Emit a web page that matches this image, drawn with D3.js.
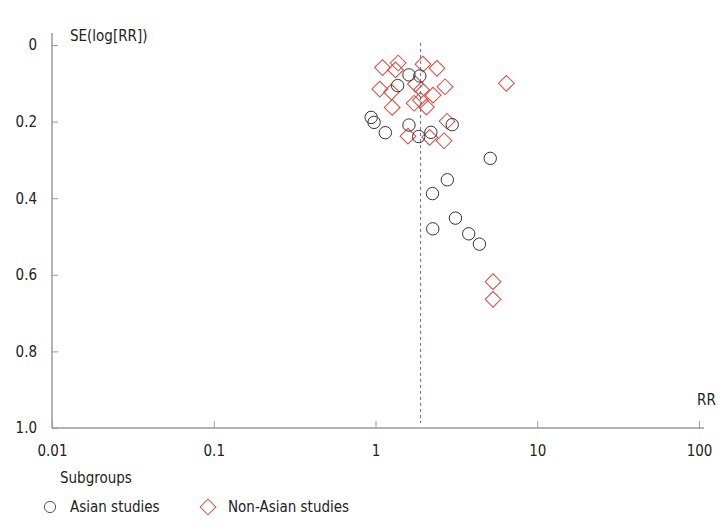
<!DOCTYPE html>
<html>
<head>
<meta charset="utf-8">
<script src="https://cdn.jsdelivr.net/npm/d3@7/dist/d3.min.js"></script>
<style>
  html, body { margin: 0; padding: 0; background: #fff; }
  svg { display: block; }
</style>
</head>
<body>
<div id="chart"></div>
<script>
// funnel plot data
var asianRR = [1.61, 1.88, 1.37, 0.94, 0.98, 1.15, 1.61, 1.85, 2.20, 2.98, 5.12, 2.78, 2.25, 3.12, 2.26, 3.77, 4.39];
var asianSE = [0.078, 0.081, 0.106, 0.189, 0.202, 0.229, 0.209, 0.239, 0.228, 0.208, 0.296, 0.352, 0.388, 0.452, 0.480, 0.493, 0.520];
var nonAsianRR = [1.105, 1.38, 1.33, 1.965, 2.40, 1.063, 1.255, 1.268, 1.765, 1.923, 2.27, 2.69, 1.733, 1.896, 2.064, 2.77, 1.587, 2.163, 2.655, 6.44, 5.33, 5.33];
var nonAsianSE = [0.059, 0.047, 0.065, 0.050, 0.061, 0.115, 0.123, 0.163, 0.102, 0.117, 0.131, 0.109, 0.152, 0.144, 0.162, 0.199, 0.238, 0.241, 0.250, 0.100, 0.618, 0.664];
var pooledRR = 1.9;
var xTicks = [0.01, 0.1, 1, 10, 100];
var yTicks = [0, 0.2, 0.4, 0.6, 0.8, 1.0];
var legendLabels = ['Asian studies', 'Non-Asian studies'];

var _width = 724, _height = 531;
var _font = '"DejaVu Sans Condensed", "DejaVu Sans", Verdana, sans-serif';
var _fontSize = 15;
var _axisColor = '#9a9a9a';
var _textColor = '#222';
var _red = '#e0473c';

var svg = d3.select('#chart').append('svg')
    .attr('width', _width)
    .attr('height', _height);

var x = d3.scaleLog().domain([0.01, 100]).range([52, 699]);
var y = d3.scaleLinear().domain([0, 1]).range([45, 428]);

// y axis
var gy = svg.append('g')
    .attr('transform', 'translate(52,0)')
    .call(d3.axisRight(y).tickValues(yTicks).tickSize(6).tickFormat(function (d) {
        return d === 0 ? '0' : d3.format('.1f')(d);
    }));
gy.select('.domain').remove();
gy.selectAll('.tick line').attr('stroke', _axisColor);
gy.selectAll('.tick text')
    .attr('x', -15)
    .attr('text-anchor', 'end')
    .attr('fill', _textColor)
    .attr('font-size', _fontSize)
    .attr('font-family', _font);
svg.append('line')
    .attr('x1', 52).attr('x2', 52)
    .attr('y1', 33).attr('y2', 428)
    .attr('stroke', _axisColor)
    .attr('stroke-width', 1.5);

// x axis
var gx = svg.append('g')
    .attr('transform', 'translate(0,428)')
    .call(d3.axisTop(x).tickValues(xTicks).tickSize(7).tickFormat(function (d) { return String(d); }));
gx.select('.domain').remove();
gx.selectAll('.tick line').attr('stroke', _axisColor);
gx.selectAll('.tick text')
    .attr('y', 28)
    .attr('dy', 0)
    .attr('text-anchor', 'middle')
    .attr('fill', _textColor)
    .attr('font-size', _fontSize)
    .attr('font-family', _font);
svg.append('line')
    .attr('x1', 52).attr('x2', 704)
    .attr('y1', 428).attr('y2', 428)
    .attr('stroke', _axisColor)
    .attr('stroke-width', 1.5);

// axis titles
svg.append('text')
    .attr('x', 70).attr('y', 41)
    .attr('fill', _textColor)
    .attr('font-size', _fontSize)
    .attr('font-family', _font)
    .text('SE(log[RR])');
svg.append('text')
    .attr('x', 697).attr('y', 405)
    .attr('fill', _textColor)
    .attr('font-size', _fontSize)
    .attr('font-family', _font)
    .text('RR');

// pooled estimate
svg.append('line')
    .attr('x1', x(pooledRR)).attr('x2', x(pooledRR))
    .attr('y1', 43).attr('y2', 423)
    .attr('stroke', '#5a6db4')
    .attr('stroke-width', 1)
    .attr('stroke-dasharray', '3,3');

var diamond = d3.symbol().type(d3.symbolSquare).size(124);

// non-Asian studies (diamonds)
svg.append('g').selectAll('path')
    .data(nonAsianRR)
    .enter().append('path')
    .attr('d', diamond)
    .attr('transform', function (d, i) {
        return 'translate(' + x(d) + ',' + y(nonAsianSE[i]) + ')rotate(45)';
    })
    .attr('fill', 'none')
    .attr('stroke', _red)
    .attr('stroke-width', 1);

// Asian studies (circles)
svg.append('g').selectAll('circle')
    .data(asianRR)
    .enter().append('circle')
    .attr('cx', function (d) { return x(d); })
    .attr('cy', function (d, i) { return y(asianSE[i]); })
    .attr('r', 6.2)
    .attr('fill', 'none')
    .attr('stroke', '#333')
    .attr('stroke-width', 1);

// legend
svg.append('text')
    .attr('x', 60).attr('y', 483)
    .attr('fill', _textColor)
    .attr('font-size', _fontSize)
    .attr('font-family', _font)
    .text('Subgroups');

var lg = svg.append('g');
lg.append('circle')
    .attr('cx', 50).attr('cy', 507)
    .attr('r', 5.6)
    .attr('fill', 'none')
    .attr('stroke', '#555')
    .attr('stroke-width', 1);
lg.append('text')
    .attr('x', 70).attr('y', 512)
    .attr('fill', _textColor)
    .attr('font-size', _fontSize)
    .attr('font-family', _font)
    .text(legendLabels[0]);
lg.append('path')
    .attr('d', diamond)
    .attr('transform', 'translate(208,507)rotate(45)')
    .attr('fill', 'none')
    .attr('stroke', _red)
    .attr('stroke-width', 1);
lg.append('text')
    .attr('x', 228).attr('y', 512)
    .attr('fill', _textColor)
    .attr('font-size', _fontSize)
    .attr('font-family', _font)
    .text(legendLabels[1]);
</script>
</body>
</html>
